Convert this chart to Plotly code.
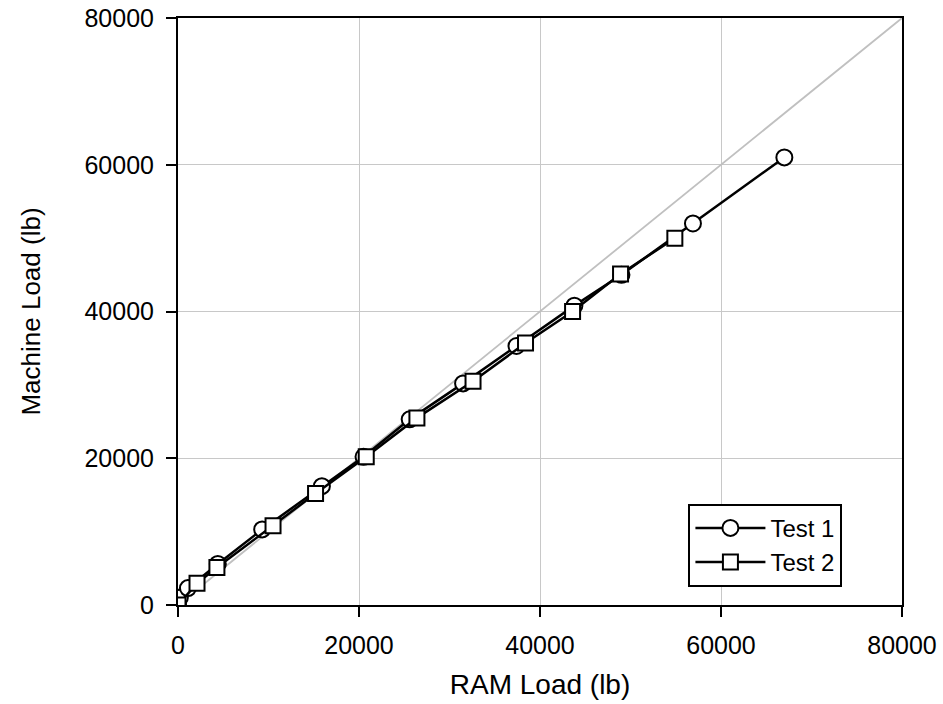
import plotly.graph_objects as go

# Data
test1_x = [0, 200, 1100, 4400, 9300, 15900, 20500, 25600, 31500, 37400, 43800, 49000, 56900, 67000]
test1_y = [0, 1000, 2300, 5600, 10300, 16200, 20200, 25300, 30200, 35300, 40800, 45000, 52000, 61000]

test2_x = [0, 2100, 4300, 10500, 15200, 20800, 26400, 32600, 38400, 43600, 48900, 54900]
test2_y = [0, 2950, 5100, 10800, 15200, 20200, 25500, 30500, 35700, 40000, 45100, 50000]

ref_x = [0, 80000]
ref_y = [0, 80000]

tick_vals = [0, 20000, 40000, 60000, 80000]
tick_text = ["0", "20000", "40000", "60000", "80000"]

FONT = "Liberation Sans, Arial, sans-serif"

fig = go.Figure()

fig.add_trace(go.Scatter(
    x=ref_x, y=ref_y, mode="lines",
    line=dict(color="#c0c0c0", width=1.8),
    showlegend=False, hoverinfo="skip"))

fig.add_trace(go.Scatter(
    x=test1_x, y=test1_y, mode="lines+markers", name="Test 1",
    line=dict(color="black", width=2.5),
    marker=dict(symbol="circle", size=16, color="white",
                line=dict(color="black", width=2))))

fig.add_trace(go.Scatter(
    x=test2_x, y=test2_y, mode="lines+markers", name="Test 2",
    line=dict(color="black", width=2.5),
    marker=dict(symbol="square", size=15, color="white",
                line=dict(color="black", width=2))))

axis_common = dict(
    range=[0, 80000],
    tickvals=tick_vals, ticktext=tick_text,
    showgrid=True, gridcolor="#c8c8c8", gridwidth=1,
    showline=True, linecolor="black", linewidth=2, mirror=True,
    ticks="outside", ticklen=10, tickwidth=1.5, tickcolor="black",
    tickfont=dict(family=FONT, size=25, color="black"),
    ticklabelstandoff=7,
    zeroline=False, automargin=False,
)

fig.update_xaxes(**axis_common,
                 title=dict(text="RAM Load (lb)", font=dict(family=FONT, size=28, color="black"), standoff=16))
fig.update_yaxes(**axis_common,
                 title=dict(text="Machine Load (lb)", font=dict(family=FONT, size=26, color="black"), standoff=36))

fig.update_layout(
    width=943, height=704,
    margin=dict(l=178, r=41, t=18, b=99),
    paper_bgcolor="white", plot_bgcolor="white",
    font=dict(family=FONT, color="black"),
    legend=dict(
        x=0.705, y=0.031, xanchor="left", yanchor="bottom",
        bgcolor="white", bordercolor="black", borderwidth=2,
        font=dict(family=FONT, size=24, color="black"),
        itemwidth=70,
    ),
)

fig.write_html("out.html")
